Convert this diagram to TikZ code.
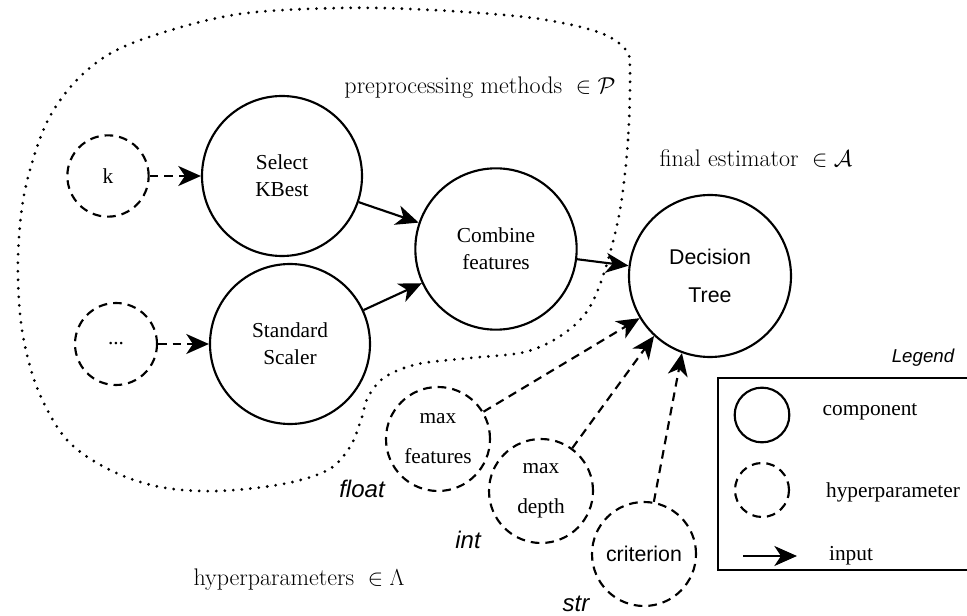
\documentclass[tikz,border=0pt]{standalone}
\usepackage{amsmath}
\usepackage{fontspec}
\newfontfamily\tmsfont{Liberation Serif}
\newfontfamily\arlfont{Liberation Sans}
\usepackage{tikz}
\usetikzlibrary{arrows.meta}
\usetikzlibrary{positioning}

\begin{document}
\begin{tikzpicture}[->,>={Stealth[length=17pt,width=15pt,inset=5pt]},x=0.75pt,y=-0.75pt,
    line width=1.6pt,on grid]
\tikzstyle{comp}=[circle, draw, inner sep=0pt, align=center, minimum size=120pt,
    font=\tmsfont\fontsize{16}{20.25}\selectfont]
\tikzstyle{hyp}=[comp, dash pattern=on 6.5pt off 4.5pt, minimum size=78pt]
\tikzstyle{hypline}=[dash pattern=on 6.5pt off 4.5pt]
\tikzstyle{setlbl}=[font=\fontsize{18}{21}\selectfont]
\tikzstyle{typelbl}=[font=\arlfont\itshape\fontsize{18}{20}\selectfont]
\tikzstyle{leglbl}=[font=\tmsfont\fontsize{16}{20}\selectfont]

\useasboundingbox (0,0) rectangle (967,616);

% preprocessing region
\draw[-, line width=2.3pt, line cap=round, dash pattern=on 0pt off 6.4pt]
    plot[smooth cycle, tension=0.55] coordinates {(630,72) (628,140) (620,210) (605,270)
    (588,310) (562,335) (525,352) (470,358) (418,364) (385,377) (368,397) (361,420)
    (350,447) (328,470) (283,484) (217,491) (160,487) (110,470) (67,440) (38,390)
    (22,330) (18,260) (25,190) (48,120) (85,72) (135,42) (233,15) (340,8) (432,10)
    (533,18) (598,32) (626,50)};

\node[hyp, minimum size=61pt]   (k)                                     at (108,176) {k};
\node[comp]                     (skb)  [right=130.5pt of k]             {Select\\KBest};
\node[hyp, minimum size=61.5pt] (dots) [below=126pt of k, xshift=6pt]   {...};
\node[comp]                     (ss)   [right=130.5pt of dots]          {Standard\\Scaler};
\node[comp, minimum size=121pt] (cf)   [below right=54.75pt and 160.5pt of skb] {Combine\\features};
\node[comp, minimum size=121.5pt, font=\arlfont\fontsize{16}{29}\selectfont]
                                (dt)   [below right=20.25pt and 160.5pt of cf]  {Decision\\Tree};

\node[hyp, font=\tmsfont\fontsize{16}{30}\selectfont]
                                (mf)   [below right=71.25pt and 111pt of ss]    {max\\features};
\node[hyp, font=\tmsfont\fontsize{16}{30}\selectfont]
                                (md)   [below right=39pt and 77.25pt of mf]     {max\\depth};
\node[hyp, font=\arlfont\fontsize{16}{20}\selectfont]
                                (crit) [below right=47.25pt and 77.25pt of md]  {criterion};

\node[typelbl] (float) [below left=37.5pt and 57pt of mf]    {float};
\node[typelbl] (int)   [below left=36.75pt and 54.75pt of md] {int};
\node[typelbl] (str)   [below left=37.5pt and 51pt of crit]  {str};

\node[setlbl] (preplbl)  at (480,88)  {$\text{preprocessing methods }\in \mathcal{P}$};
\node[setlbl] (estlbl)   at (756,159) {$\text{final estimator }\in \mathcal{A}$};
\node[setlbl] (hyperlbl) at (299,580) {$\text{hyperparameters }\in \Lambda$};

\path   (skb)  edge (cf)
        (ss)   edge (cf)
        (cf)   edge (dt);
\path[hypline]
        (k)    edge (skb)
        (dots) edge (ss)
        (mf)   edge (dt)
        (md)   edge (dt.227)
        (crit) edge (dt.250);

% legend
\node[typelbl, font=\arlfont\itshape\fontsize{14}{16}\selectfont] (legtitle) at (923,358) {Legend};
\draw[-] (718,378) rectangle (985,570);
\node[comp, minimum size=41pt] (lcomp) at (762,415) {};
\node[hyp, minimum size=40.5pt] (lhyp) at (762,490) {};
\node[leglbl] (lcomptxt) at (870,412) {component};
\node[leglbl] (lhyptxt)  at (893,492) {hyperparameter};
\node[leglbl] (linptxt)  at (851,556) {input};
\coordinate (lin1) at (743,556);
\coordinate (lin2) at (797,556);
\draw (lin1) -- (lin2);

\end{tikzpicture}
\end{document}
